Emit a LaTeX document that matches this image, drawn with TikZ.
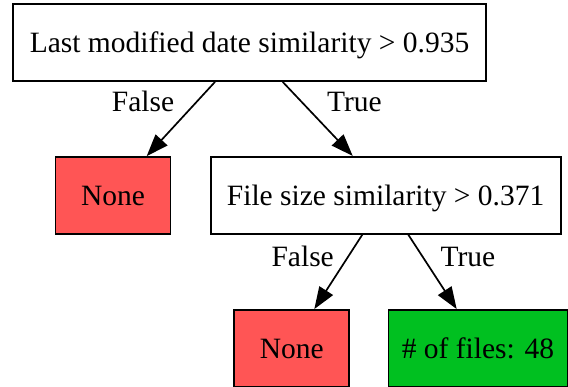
\documentclass[tikz,border=0pt]{standalone}
\usepackage{fontspec}
\setmainfont{Liberation Serif}
\usetikzlibrary{arrows.meta}
\definecolor{nonered}{HTML}{FF5555}
\definecolor{leafgreen}{HTML}{00C020}
\begin{document}
\begin{tikzpicture}[x=1pt,y=1pt,
  box/.style={draw=black,line width=1.8pt,rectangle,inner sep=0pt,minimum height=77pt,
    text height=20pt,text depth=0pt,font=\fontsize{29.5}{33}\selectfont},
  edge/.style={line width=1.7pt,-{Triangle[length=22pt,width=16pt]}},
  lbl/.style={anchor=base,inner sep=0pt,font=\fontsize{29.5}{33}\selectfont}]
\useasboundingbox (0,0) rectangle (568,-387);
\node[box,minimum width=473pt] (root) at (249.5,-42.5) {Last modified date similarity > 0.935};
\node[box,fill=nonered,minimum width=115pt] (n1) at (113,-195.5) {None};
\node[box,minimum width=350pt] (fs) at (385.6,-195.3) {File size similarity > 0.371};
\node[box,fill=nonered,minimum width=115pt] (n2) at (291.8,-348.5) {None};
\node[box,fill=leafgreen,minimum width=179pt] (g) at (478,-348.5) {\# of files: 48};
\draw[edge] ([xshift=-34.5pt]root.south) -- ([xshift=33.7pt]n1.north);
\draw[edge] ([xshift=33.2pt]root.south) -- ([xshift=-32.9pt]fs.north);
\draw[edge] ([xshift=-23.3pt]fs.south) -- ([xshift=22.5pt]n2.north);
\draw[edge] ([xshift=22.7pt]fs.south) -- ([xshift=-21.3pt]g.north);
\node[lbl] (l1) at (143,-111.7) {False};
\node[lbl] (l2) at (354.5,-111.7) {True};
\node[lbl] (l3) at (302.7,-267) {False};
\node[lbl] (l4) at (468,-267) {True};
\end{tikzpicture}
\end{document}
